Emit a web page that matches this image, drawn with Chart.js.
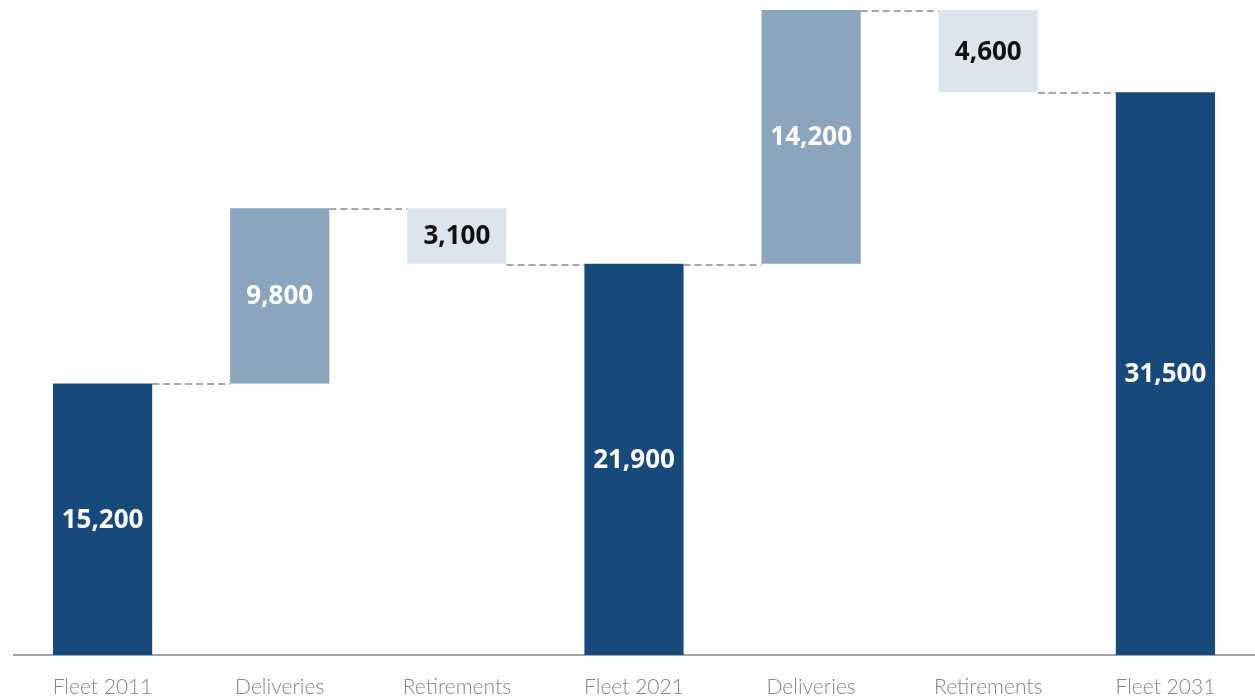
<!DOCTYPE html>
<html>
<head>
<meta charset="utf-8">
<script src="https://cdn.jsdelivr.net/npm/chart.js@4"></script>
<style>
  html, body { margin: 0; padding: 0; background: #fff; }
  #wrap { width: 1255px; height: 697px; }
</style>
</head>
<body>
<div id="wrap"><canvas id="graficoFlota"></canvas></div>
<script>
// Datos
const categorias = ['Fleet 2011', 'Deliveries', 'Retirements', 'Fleet 2021', 'Deliveries', 'Retirements', 'Fleet 2031'];
const valores = [15200, 9800, -3100, 21900, 14200, -4600, 31500];
const tipos = ['total', 'up', 'down', 'total', 'up', 'down', 'total'];

const colores = { total: '#174a7a', up: '#8ba5bf', down: '#dce4ec' };
const coloresTexto = { total: '#ffffff', up: '#ffffff', down: '#111111' };

// rangos flotantes
let acumulado = 0;
const rangos = valores.map((v, i) => {
  if (tipos[i] === 'total') { acumulado = v; return [0, v]; }
  const inicio = acumulado;
  acumulado += v;
  return [inicio, acumulado];
});
const niveles = rangos.map(r => r[1]);

const conectores = {
  id: 'conectores',
  beforeDatasetsDraw(chart) {
    const ctx = chart.ctx;
    const meta = chart.getDatasetMeta(0);
    const y = chart.scales.y;
    ctx.save();
    ctx.strokeStyle = '#9fa7b1';
    ctx.lineWidth = 2.2;
    ctx.setLineDash([7, 4]);
    for (let i = 0; i < meta.data.length - 1; i++) {
      const a = meta.data[i], b = meta.data[i + 1];
      const py = Math.round(y.getPixelForValue(niveles[i])) + 1;
      ctx.beginPath();
      ctx.moveTo(a.x + a.width / 2, py);
      ctx.lineTo(b.x - b.width / 2, py);
      ctx.stroke();
    }
    ctx.restore();
  },
  afterDatasetsDraw(chart) {
    const ctx = chart.ctx;
    const meta = chart.getDatasetMeta(0);
    ctx.save();
    ctx.font = 'bold 26px "Open Sans"';
    ctx.textAlign = 'center';
    ctx.textBaseline = 'middle';
    meta.data.forEach((bar, i) => {
      const cy = (bar.y + bar.base) / 2;
      ctx.fillStyle = coloresTexto[tipos[i]];
      ctx.fillText(Math.abs(valores[i]).toLocaleString('en-US'), bar.x, cy + 1);
    });
    ctx.restore();
  }
};

new Chart(document.getElementById('graficoFlota').getContext('2d'), {
  type: 'bar',
  data: {
    labels: categorias,
    datasets: [{
      data: rangos,
      backgroundColor: tipos.map(t => colores[t]),
      borderWidth: 0,
      borderSkipped: false,
      barPercentage: 1,
      categoryPercentage: 0.56
    }]
  },
  options: {
    responsive: true,
    maintainAspectRatio: false,
    animation: false,
    layout: { padding: { top: 10, left: 14, right: 1, bottom: 0 } },
    plugins: { legend: { display: false }, tooltip: { enabled: false } },
    scales: {
      x: {
        grid: { display: false },
        border: { display: true, color: '#9ba6b2', width: 2 },
        afterFit(scale) { scale.height = 42; },
        ticks: {
          color: '#858585',
          padding: 14,
          maxRotation: 0,
          font: { family: 'Lato', weight: 300, size: 21, lineHeight: 1 }
        }
      },
      y: { display: false, min: 0, max: 36100 }
    }
  },
  plugins: [conectores]
});
</script>
</body>
</html>
